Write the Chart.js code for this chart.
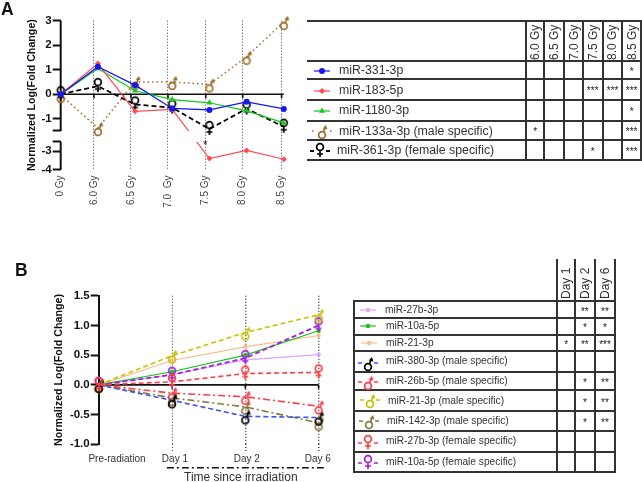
<!DOCTYPE html>
<html>
<head>
<meta charset="utf-8">
<script src="https://cdn.jsdelivr.net/npm/chart.js@4"></script>
<style>
html, body { margin: 0; padding: 0; background: #fff; width: 642px; height: 482px; overflow: hidden; }
body { position: relative; font-family: "Liberation Sans", Arial, sans-serif; color: #333; }
canvas { position: absolute; }
.t { position: absolute; white-space: pre; line-height: 1; will-change: transform; }
.l { position: absolute; background: #333; }
</style>
</head>
<body>
<canvas id="chartA" width="300" height="225" style="left:0;top:0"></canvas>
<canvas id="chartB" width="340" height="232" style="left:0;top:250px"></canvas>
<script>
//Panel A data
const doses = ['0 Gy', '6.0 Gy', '6.5 Gy', '7.0  Gy', '7.5 Gy', '8.0 Gy', '8.5 Gy'];
const doseTickPos = [0, 0.895, 1.89, 2.885, 3.9, 4.895, 5.94];
const a331 = [0, 1.12, 0.37, -0.58, -0.64, -0.31, -0.6];
const a183 = [0, 1.25, -0.7, -0.62, -3.4, -2.96, -3.44];
const a1180 = [0, 1.05, 0.14, -0.22, -0.35, -0.68, -1.17];
const a133 = [-0.03, -1.38, 0.5, 0.5, 0.4, 1.53, 2.95];
const a361 = [0, 0.33, -0.42, -0.55, -1.42, -0.59, -1.33];
const yTicksA = [3, 2, 1, 0, -1, -1.5, -2.5, -3, -4];

//Panel A table
const namesA = ['miR-331-3p', 'miR-183-5p', 'miR-1180-3p', 'miR-133a-3p (male specific)', 'miR-361-3p (female specific)'];
const headA = ['6.0 Gy', '6.5 Gy', '7.0 Gy', '7.5 Gy', '8.0 Gy', '8.5 Gy'];
const sigA = [
    ['', '', '', '', '', '*'],
    ['', '', '', '***', '***', '***'],
    ['', '', '', '', '', '*'],
    ['*', '', '', '', '', '***'],
    ['', '', '', '*', '', '***']
];

//Panel B data
const days = ['Pre-radiation', 'Day 1', 'Day 2', 'Day 6'];
const dayTickPos = [0.25, 1.04, 2.02, 2.99];
const b27b = [0, 0.17, 0.42, 0.51];
const b10a = [0, 0.22, 0.5, 0.91];
const b21 = [0, 0.41, 0.64, 0.83];
const b380m = [0, -0.26, -0.53, -0.55];
const b26bm = [0, -0.14, -0.2, -0.36];
const b21m = [0, 0.49, 0.88, 1.18];
const b142m = [0, -0.22, -0.37, -0.64];
const b27bf = [0, 0.05, 0.19, 0.21];
const b10af = [0, 0.17, 0.45, 1.0];
const yTicksB = [1.5, 1, 0.5, 0, -0.5, -1];

//Panel B table
const namesB = ['miR-27b-3p', 'miR-10a-5p', 'miR-21-3p', 'miR-380-3p (male specific)', 'miR-26b-5p (male specific)',
    'miR-21-3p (male specific)', 'miR-142-3p (male specific)', 'miR-27b-3p (female specific)', 'miR-10a-5p (female specific)'];
const headB = ['Day 1', 'Day 2', 'Day 6'];
const sigB = [
    ['', '**', '**'],
    ['', '*', '*'],
    ['*', '**', '***'],
    ['', '', ''],
    ['', '*', '**'],
    ['', '*', '**'],
    ['', '*', '**'],
    ['', '', ''],
    ['', '', '']
];

const BLUE = '#1414f5', RED = '#ff4a52', GREEN = '#14c814', BROWN = '#a06c2c', BLACK = '#000';
const PINK = '#dca6f7', ORANGE = '#f6bd8e', OLIVE = '#8a7a3e', YELLOW = '#c9c204', PURPLE = '#a31fe0', RED2 = '#ff3c46', BLUE2 = '#3c55e6';
const DASH = [5, 3], DOT = [1.5, 3], DASHDOT = [7, 3, 2, 3];

//male / female markers, the point sits in the middle of the symbol
function glyph(kind, color) {
    const c = document.createElement('canvas');
    c.width = 26; c.height = 26;
    drawGlyph(c.getContext('2d'), kind, color, 13, 13);
    return c;
}

function drawGlyph(g, kind, color, x, y) {
    g.strokeStyle = color;
    g.fillStyle = color;
    g.lineWidth = 1.7;
    g.setLineDash([]);
    g.beginPath();
    if (kind == 'male') {
        g.arc(x, y + 4, 3.4, 0, Math.PI * 2);
        g.moveTo(x + 1.5, y + 1);
        g.lineTo(x + 3, y - 3);
        g.stroke();
        g.beginPath();
        g.moveTo(x + 4, y - 6);
        g.lineTo(x + 0.6, y - 2.6);
        g.lineTo(x + 5.4, y - 1.6);
        g.closePath();
        g.fill();
    } else {
        g.arc(x, y - 4, 3.4, 0, Math.PI * 2);
        g.moveTo(x, y - 0.6);
        g.lineTo(x, y + 6);
        g.moveTo(x - 3, y + 3);
        g.lineTo(x + 3, y + 3);
        g.stroke();
    }
}

function series(values, color, extra) {
    return Object.assign({
        data: values.map((v, i) => ({ x: i, y: v })),
        borderColor: color,
        backgroundColor: color,
        borderWidth: 1.2,
        pointRadius: 3,
        pointBorderWidth: 0,
        clip: false
    }, extra);
}

const datasetsA = [
    series(a331, BLUE),
    series(a183, RED, { pointStyle: 'rectRot', breakLine: true }),
    series(a1180, GREEN, { pointStyle: 'triangle', pointRadius: 3.5 }),
    series(a361, BLACK, { borderDash: DASH, borderWidth: 1.8, pointStyle: glyph('female', BLACK) }),
    series(a133, BROWN, { borderDash: DOT, borderWidth: 1.5, pointStyle: glyph('male', BROWN) })
];

const datasetsB = [
    series(b21m, YELLOW, { borderDash: DASH, borderWidth: 1.6, pointStyle: glyph('male', YELLOW) }),
    series(b10af, PURPLE, { borderDash: DASH, borderWidth: 1.8, pointStyle: glyph('female', PURPLE) }),
    series(b10a, GREEN, { pointRadius: 2.2 }),
    series(b27bf, RED2, { borderDash: DASH, borderWidth: 1.6, pointStyle: glyph('female', RED2), order: -1 }),
    series(b21, ORANGE, { pointRadius: 2.2 }),
    series(b27b, PINK, { pointRadius: 2.2 }),
    series(b380m, BLUE2, { borderDash: DASH, borderWidth: 1.6, pointStyle: glyph('male', BLACK), order: -1 }),
    series(b26bm, RED2, { borderDash: DASHDOT, borderWidth: 1.6, pointStyle: glyph('male', RED2) }),
    series(b142m, OLIVE, { borderDash: DASHDOT, borderWidth: 1.6, pointStyle: glyph('male', OLIVE) })
];

//y axis with a gap between -1.5 and -2.5
const breakVals = [-4, -2.5, -1.5, 3];
const breakFrac = [0, 0.185, 0.259, 1];
class BrokenScale extends Chart.LinearScale {
    getPixelForValue(v) {
        let i = 0;
        while (i < 2 && v > breakVals[i + 1]) i++;
        const t = (v - breakVals[i]) / (breakVals[i + 1] - breakVals[i]);
        return this.getPixelForDecimal(breakFrac[i] + t * (breakFrac[i + 1] - breakFrac[i]));
    }
}
BrokenScale.id = 'broken';
BrokenScale.defaults = Chart.LinearScale.defaults;
Chart.register(BrokenScale);

//zero line across the plot with small ticks hanging off it
const zeroLine = {
    id: 'zeroLine',
    beforeDatasetsDraw(chart) {
        const g = chart.ctx, area = chart.chartArea, y0 = chart.scales.y.getPixelForValue(0);
        g.save();
        g.strokeStyle = '#111';
        g.lineWidth = 1.6;
        g.beginPath();
        g.moveTo(area.left, y0);
        g.lineTo(area.right, y0);
        chart.scales.x.ticks.forEach(t => {
            const x = chart.scales.x.getPixelForValue(t.value);
            if (x > area.left + 1) {
                g.moveTo(x, y0);
                g.lineTo(x, y0 + 4);
            }
        });
        g.stroke();
        g.restore();
    }
};

//panel A only: axis drawn in two pieces, red line cut at the gap
const axisBreak = {
    id: 'axisBreak',
    beforeDatasetsDraw(chart) {
        const g = chart.ctx, s = chart.scales.y, x = chart.chartArea.left;
        g.save();
        g.strokeStyle = '#111';
        g.lineWidth = 2;
        g.beginPath();
        g.moveTo(x, s.getPixelForValue(3));
        g.lineTo(x, s.getPixelForValue(-1.5));
        g.moveTo(x, s.getPixelForValue(-2.5));
        g.lineTo(x, s.getPixelForValue(-4));
        g.stroke();
        g.restore();
    },
    beforeDatasetDraw(chart, args) {
        if (!args.meta._dataset.breakLine) return;
        const g = chart.ctx, s = chart.scales.y;
        const yTop = s.getPixelForValue(-1.5), yLow = s.getPixelForValue(-2.5);
        g.save();
        g.beginPath();
        g.rect(0, 0, chart.width, yTop);
        g.rect(0, yLow, chart.width, chart.height - yLow);
        g.clip();
    },
    afterDatasetDraw(chart, args) {
        if (args.meta._dataset.breakLine) chart.ctx.restore();
    }
};

//Time since irradiation rule
const timeRule = {
    id: 'timeRule',
    afterDraw(chart) {
        const g = chart.ctx, s = chart.scales.x;
        g.save();
        g.strokeStyle = '#111';
        g.lineWidth = 1.5;
        g.setLineDash(DASHDOT);
        g.beginPath();
        g.moveTo(s.getPixelForValue(0.93), 217.7);
        g.lineTo(s.getPixelForValue(3.07), 217.7);
        g.stroke();
        g.restore();
    }
};

const boldTick = { family: '"Liberation Sans", Arial, sans-serif', size: 11.5, weight: 'bold' };
const titleFont = { family: '"Liberation Sans", Arial, sans-serif', size: 10.7, weight: 'bold' };
const plainTick = { family: '"Liberation Sans", Arial, sans-serif', size: 10 };

new Chart(document.getElementById('chartA'), {
    type: 'line',
    data: { datasets: datasetsA },
    plugins: [zeroLine, axisBreak],
    options: {
        responsive: false,
        animation: false,
        events: [],
        layout: { autoPadding: false, padding: { top: 20.7, right: 16.2, left: 0, bottom: 0 } },
        plugins: { legend: { display: false }, tooltip: { enabled: false } },
        scales: {
            x: {
                type: 'linear', min: 0, max: 6,
                afterFit(s) { s.height = 55.5; },
                afterBuildTicks(s) { s.ticks = doseTickPos.map(v => ({ value: v })); },
                border: { display: false, dash: [1, 2] },
                grid: {
                    drawTicks: false,
                    lineWidth: 1,
                    color: c => c.index == 0 ? 'transparent' : '#444'
                },
                ticks: {
                    autoSkip: false, minRotation: 90, maxRotation: 90, padding: 6, color: '#444', font: plainTick,
                    callback: (v, i) => doses[i]
                }
            },
            y: {
                type: 'broken', min: -4, max: 3,
                afterFit(s) { s.width = 60.7; },
                afterBuildTicks(s) { s.ticks = yTicksA.map(v => ({ value: v })); },
                border: { display: false },
                grid: { drawOnChartArea: false, tickLength: 8, tickWidth: 2, tickColor: '#111' },
                title: { display: true, text: 'Normalized Log(Fold Change)', color: '#111', font: titleFont, padding: { top: 26, bottom: 0 } },
                ticks: {
                    autoSkip: false, padding: 1, color: '#111', font: boldTick,
                    callback: v => (v == -1.5 || v == -2.5) ? '' : String(v)
                }
            }
        }
    }
});

new Chart(document.getElementById('chartB'), {
    type: 'line',
    data: { datasets: datasetsB },
    plugins: [zeroLine, timeRule],
    options: {
        responsive: false,
        animation: false,
        events: [],
        layout: { autoPadding: false, padding: { top: 45.7, right: 18.3, left: 0, bottom: 0 } },
        plugins: { legend: { display: false }, tooltip: { enabled: false } },
        scales: {
            x: {
                type: 'linear', min: 0, max: 3,
                afterFit(s) { s.height = 0; },
                afterBuildTicks(s) { s.ticks = [1, 2, 3].map(v => ({ value: v })); },
                border: { display: false, dash: [1, 2] },
                grid: {
                    lineWidth: c => c.index == 0 ? 1 : 1.5, color: '#444',
                    tickLength: 7, tickColor: '#444', tickBorderDash: [1, 2]
                },
                ticks: { display: false }
            },
            xLabels: {
                type: 'linear', position: 'bottom', min: 0, max: 3,
                afterFit(s) { s.height = 37.7; },
                afterBuildTicks(s) { s.ticks = dayTickPos.map(v => ({ value: v })); },
                border: { display: false },
                grid: { display: false, drawTicks: false },
                ticks: {
                    autoSkip: false, maxRotation: 0, padding: 9, color: '#333', font: plainTick,
                    callback: (v, i) => days[i]
                }
            },
            y: {
                min: -1, max: 1.5,
                afterFit(s) { s.width = 98.7; },
                afterBuildTicks(s) { s.ticks = yTicksB.map(v => ({ value: v })); },
                border: { display: true, color: '#111', width: 2 },
                grid: { drawOnChartArea: false, tickLength: 8, tickWidth: 2, tickColor: '#111' },
                title: { display: true, text: 'Normalized Log(Fold Change)', color: '#111', font: titleFont, padding: { top: 53, bottom: 0 } },
                ticks: {
                    autoSkip: false, padding: 1, color: '#111', font: boldTick,
                    callback: v => v.toFixed(1)
                }
            }
        }
    }
});

//Text and rules around the charts
function text(str, x, y, size, opts) {
    const d = document.createElement('div');
    d.className = 't';
    d.textContent = str;
    d.style.cssText = `left:${x}px;top:${y}px;font-size:${size}px;` + (opts || '');
    document.body.appendChild(d);
    return d;
}

function hline(x1, x2, y) {
    const d = document.createElement('div');
    d.className = 'l';
    d.style.cssText = `left:${Math.round(x1)}px;top:${Math.round(y) - 1}px;width:${Math.round(x2 - x1)}px;height:2px`;
    document.body.appendChild(d);
}

function vline(x, y1, y2) {
    const d = document.createElement('div');
    d.className = 'l';
    d.style.cssText = `left:${Math.round(x) - 1}px;top:${Math.round(y1) - 1}px;width:2px;height:${Math.round(y2 - y1) + 1}px`;
    document.body.appendChild(d);
}

function key(x, y, color, dash, width, marker) {
    const c = document.createElement('canvas');
    const half = marker.kind ? 10 : 8;
    c.width = 40; c.height = 20;
    c.style.left = (x - 20) + 'px';
    c.style.top = (y - 10) + 'px';
    document.body.appendChild(c);
    const g = c.getContext('2d');
    g.strokeStyle = color;
    g.lineWidth = width;
    g.setLineDash(dash);
    g.beginPath();
    g.moveTo(20 - half, 10);
    g.lineTo(20 + half, 10);
    g.stroke();
    if (marker.kind) {
        g.clearRect(14, 0, 12, 20);
        drawGlyph(g, marker.kind, marker.color, 20, 10);
    } else {
        g.setLineDash([]);
        g.fillStyle = color;
        g.strokeStyle = color;
        Chart.helpers.drawPoint(g, { pointStyle: marker.style || 'circle', radius: marker.r || 3, rotation: 0, borderWidth: 0 }, 20, 10);
    }
}

text('A', 1, 1, 17.5, 'font-weight:bold;color:#111');
text('B', 15, 262, 17.5, 'font-weight:bold;color:#111');
text('*', 202.5, 139, 12, 'color:#222');
text('Time since irradiation', 184, 471, 12, 'color:#333');

//table A
const rowsA = [60.7, 79.3, 100, 120.7, 140.3, 160.3];
const colsA = [525.7, 544.3, 564, 583.3, 602.7, 622, 641.2];
const keyXA = [322, 322, 322, 322, 320];
const textXA = [339, 339, 339, 339, 337.3];
hline(307.3, 642, 21);
rowsA.forEach(y => hline(307.3, 642, y));
colsA.forEach(x => vline(x, 21, 160.8));
headA.forEach((h, i) => {
    const cx = (colsA[i] + colsA[i + 1]) / 2;
    text(h, cx, 59.5, 12, 'transform-origin:0 0;transform:rotate(-90deg) translateY(-6px);color:#333');
});
namesA.forEach((n, r) => {
    const yc = (rowsA[r] + rowsA[r + 1]) / 2;
    text(n, textXA[r], yc - 6, 12.3);
    sigA[r].forEach((s, c) => {
        if (s) text(s, colsA[c], yc - 3.5, 10, `width:${colsA[c + 1] - colsA[c]}px;text-align:center;color:#222`);
    });
});
key(keyXA[0], 70.7, BLUE, [], 1.2, { style: 'circle' });
key(keyXA[1], 90.7, RED, [], 1.2, { style: 'rectRot' });
key(keyXA[2], 110.7, GREEN, [], 1.2, { style: 'triangle', r: 3.5 });
key(keyXA[3], 130.7, BROWN, DOT, 1.5, { kind: 'male', color: BROWN });
key(keyXA[4], 150.7, BLACK, DASH, 1.8, { kind: 'female', color: BLACK });

//table B
const rowsB = [301, 318, 334.7, 351, 371.7, 390.3, 410.7, 430.7, 452, 472.3];
const colsB = [556.7, 575.3, 595, 615];
const textXB = [385, 386, 386.3, 386, 386, 387.7, 386.7, 385.7, 386];
rowsB.forEach(y => hline(354, 615.7, y));
vline(354, 301, 473);
colsB.forEach(x => vline(x, 260, 473));
headB.forEach((h, i) => {
    const cx = (colsB[i] + colsB[i + 1]) / 2;
    text(h, cx, 299, 12, 'transform-origin:0 0;transform:rotate(-90deg) translateY(-6px);color:#333');
});
namesB.forEach((n, r) => {
    const yc = (rowsB[r] + rowsB[r + 1]) / 2;
    text(n, textXB[r], yc - 5, 10.2);
    sigB[r].forEach((s, c) => {
        if (s) text(s, colsB[c], yc - 3, 10, `width:${colsB[c + 1] - colsB[c]}px;text-align:center;color:#222`);
    });
});
const keyYB = [310, 326, 342.7, 363, 382, 400, 421, 443, 463];
key(368, keyYB[0], PINK, [], 1.2, { style: 'circle', r: 2.2 });
key(368, keyYB[1], GREEN, [], 1.2, { style: 'circle', r: 2.2 });
key(369, keyYB[2], ORANGE, [], 1.2, { style: 'circle', r: 2.2 });
key(368, keyYB[3], BLUE2, DASH, 1.6, { kind: 'male', color: BLACK });
key(368, keyYB[4], RED2, DASH, 1.6, { kind: 'male', color: RED2 });
key(370, keyYB[5], YELLOW, DASH, 1.6, { kind: 'male', color: YELLOW });
key(369, keyYB[6], OLIVE, DASH, 1.6, { kind: 'male', color: OLIVE });
key(368, keyYB[7], RED2, DASH, 1.6, { kind: 'female', color: RED2 });
key(368, keyYB[8], PURPLE, DASH, 1.6, { kind: 'female', color: PURPLE });
</script>
</body>
</html>
